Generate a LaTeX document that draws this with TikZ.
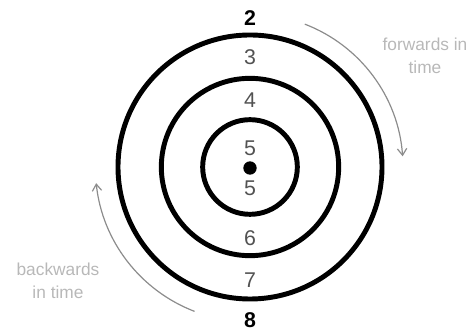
\documentclass[tikz,border=0pt]{standalone}
\usepackage{fontspec}
\setmainfont{Liberation Sans}
\usetikzlibrary{arrows.meta}
\begin{document}
\begin{tikzpicture}[x=0.75pt,y=-0.75pt,
  ring/.style={circle,draw=black,line width=3.7pt,inner sep=0pt},
  num/.style={text=black!68,font=\fontsize{16}{18}\selectfont,inner sep=0pt},
  bnum/.style={text=black,font=\fontsize{16}{18}\selectfont\bfseries,inner sep=0pt},
  note/.style={text=black!28,font=\fontsize{13}{17}\selectfont,align=center,inner sep=0pt},
  timearrow/.style={draw=black!45,line width=0.9pt,-{Straight Barb[length=5pt,width=7pt]}}]
\useasboundingbox (0,0) rectangle (475,334);
\coordinate (c) at (250,167);
\node[ring,minimum size=198pt] (outer) at (c) {};
\node[ring,minimum size=133pt] (middle) at (c) {};
\node[ring,minimum size=71pt] (inner) at (c) {};
\node[circle,fill=black,inner sep=0pt,minimum size=10pt] (dot) at (250,168) {};
\node[bnum] (n2) at (250,18) {2};
\node[num] (n3) at (250,57) {3};
\node[num] (n4) at (250,100) {4};
\node[num] (n5a) at (250,148) {5};
\node[num] (n5b) at (250,188) {5};
\node[num] (n6) at (250,238) {6};
\node[num] (n7) at (250,280) {7};
\node[bnum] (n8) at (250,320) {8};
\node[note] (fwd) at (425,56) {forwards in\\time};
\node[note] (bwd) at (58,281) {backwards\\in time};
\draw[timearrow] ([shift={(69:114.75pt)}]c) arc[start angle=69,end angle=4,radius=114.75pt];
\draw[timearrow] ([shift={(249:116pt)}]c) arc[start angle=249,end angle=186,radius=116pt];
\end{tikzpicture}
\end{document}
